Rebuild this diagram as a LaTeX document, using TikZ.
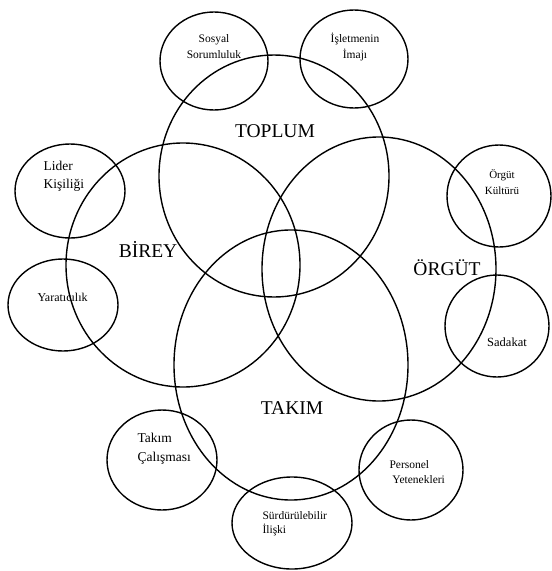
\documentclass[tikz,border=0pt]{standalone}
\usepackage{fontspec}
\setmainfont{Liberation Serif}
\usetikzlibrary{shapes.geometric}
\begin{document}
\begin{tikzpicture}[x=1pt,y=-1pt,
  ring/.style={draw,ellipse,line width=1.4pt,inner sep=0pt,minimum width=#1},
  big/.style={font=\fontsize{19.5}{21}\selectfont},
  small/.style={font=\fontsize{11.5}{16}\selectfont,align=center},
  smallL/.style={font=\fontsize{11.5}{18}\selectfont,align=left}]
\useasboundingbox (0,0) rectangle (552,571);
% big circles
\node[ring=230pt,minimum height=242pt] (toplum) at (274,176) {};
\node[ring=234pt,minimum height=244pt] (birey) at (183,265) {};
\node[ring=234pt,minimum height=264pt] (orgut) at (379,269) {};
\node[ring=234pt,minimum height=270pt] (takim) at (291,365) {};
% small circles
\node[ring=108pt,minimum height=98pt] (sosyal) at (214,61) {};
\node[ring=108pt,minimum height=98pt] (imaj) at (354,59) {};
\node[ring=110pt,minimum height=94pt] (lider) at (70,191) {};
\node[ring=110pt,minimum height=92pt] (yarat) at (63,305) {};
\node[ring=104pt,minimum height=102pt] (kultur) at (499,196) {};
\node[ring=104pt,minimum height=102pt] (sadakat) at (497,326) {};
\node[ring=110pt,minimum height=100pt] (calisma) at (162,460) {};
\node[ring=120pt,minimum height=92pt] (iliski) at (292,523) {};
\node[ring=104pt,minimum height=100pt] (personel) at (411,470) {};
% big labels
\node[big] (tT) at (275,131) {TOPLUM};
\node[big] (tB) at (148,249) {BİREY};
\node[big] (tO) at (447,268) {ÖRGÜT};
\node[big] (tK) at (292,408) {TAKIM};
% small labels
\node[small] (lS) at (214,47) {Sosyal\\Sorumluluk};
\node[small] (lI) at (355,47) {İşletmenin\\İmajı};
\node[smallL,anchor=west,font=\fontsize{13.5}{18}\selectfont] (lL) at (40,176) {Lider\\Kişiliği};
\node[small,anchor=west,font=\fontsize{12}{14}\selectfont] (lY) at (34,297) {Yaratıcılık};
\node[small,font=\fontsize{11}{16}\selectfont] (lK) at (502,182) {Örgüt\\Kültürü};
\node[small,font=\fontsize{12.5}{14}\selectfont] (lD) at (507,342) {Sadakat};
\node[smallL,anchor=west,font=\fontsize{13.5}{19}\selectfont] (lC) at (134,449) {Takım\\Çalışması};
\node[smallL,anchor=west,font=\fontsize{11.5}{14}\selectfont] (lSI) at (259,524) {Sürdürülebilir\\İlişki};
\node[smallL,anchor=west,font=\fontsize{11.5}{15}\selectfont] (lP) at (386,472) {Personel\\\ Yetenekleri};
\end{tikzpicture}
\end{document}
